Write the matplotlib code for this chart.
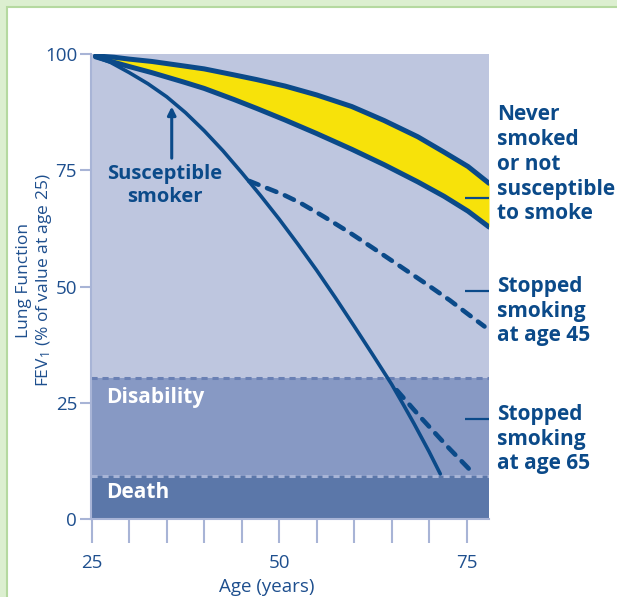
import matplotlib
matplotlib.use('Agg')
import matplotlib.pyplot as plt
from matplotlib.patches import Rectangle

plt.rcParams['font.family'] = ['Open Sans', 'DejaVu Sans']
plt.rcParams['mathtext.fontset'] = 'custom'
plt.rcParams['mathtext.rm'] = 'Open Sans'
plt.rcParams['mathtext.it'] = 'Open Sans:italic'

# lung function (% of FEV1 at age 25)
never_age = [25.5, 28, 30, 33, 37.4, 40, 44, 47, 50.8, 55, 59.7, 64, 68.5, 72, 75.2, 78.0]
never_top = [99.6, 99.3, 98.9, 98.4, 97.4, 96.8, 95.5, 94.5, 93.1, 91.2, 88.7, 85.7, 82.2, 78.9, 75.8, 72.2]
never_bottom = [99.4, 98.2, 97.3, 96.0, 93.9, 92.6, 90.2, 88.3, 85.8, 82.9, 79.5, 76.2, 72.5, 69.4, 66.2, 62.8]

smoker_age = [25.5, 27.5, 30, 32.5, 35, 37.5, 40, 42.5, 45, 47.5, 50, 52.5, 55, 57.5,
              60, 62.5, 65, 66.5, 68, 70, 71.5]
smoker_fev = [99.4, 98.2, 96.0, 93.6, 90.8, 87.4, 83.5, 79.2, 74.5, 69.6, 64.5, 59.1, 53.5, 47.6,
              41.5, 35.3, 29.0, 24.8, 20.5, 14.5, 9.7]

stop45_age = [46.0, 48, 50.5, 52.8, 56, 59.4, 62.5, 66.1, 69.5, 72.8, 75, 77.4]
stop45_fev = [72.7, 71.4, 69.8, 68.0, 65.0, 61.6, 58.3, 54.4, 50.7, 47.0, 44.3, 41.4]

stop65_age = [65.7, 68.8, 72.5, 76.1]
stop65_fev = [27.7, 22.0, 15.5, 9.5]

death_level = 9.2
disability_level = 30.3

navy = '#0b4a89'
tick_col = '#1e4f8e'
axis_col = '#a8b4d6'

fig = plt.figure(figsize=(6.17, 5.97), dpi=100)
fig.patch.set_facecolor('#dcefd0')
fig.patches.append(Rectangle((7 / 617, -0.02), 1.0, 590 / 597 + 0.02,
                             transform=fig.transFigure, facecolor='white',
                             edgecolor='#b5d9a0', lw=1.5, zorder=-10))

ax = fig.add_axes([91 / 617, 78 / 597, 398 / 617, 465 / 597])
ax.set_facecolor('#bec6df')
ax.set_xlim(24.9, 78.0)
ax.set_ylim(0, 100)

# bands
ax.axhspan(0, death_level, color='#5b77a9', lw=0, zorder=1)
ax.axhspan(death_level, disability_level, color='#8799c4', lw=0, zorder=1)
ax.axhline(disability_level, color='#6a80b4', lw=2.2, ls=(0, (2, 1.6)), zorder=2)
ax.axhline(death_level, color='#a7b4d6', lw=2.2, ls=(0, (2, 1.6)), zorder=2)

# curves
ax.fill_between(never_age, never_bottom, never_top, color='#f7e20a', lw=0, zorder=3)
ax.plot(never_age, never_top, color=navy, lw=3.6, solid_capstyle='round', zorder=5)
ax.plot(never_age, never_bottom, color=navy, lw=3.6, solid_capstyle='round', zorder=5)
ax.plot(smoker_age, smoker_fev, color=navy, lw=2.6, solid_capstyle='round', zorder=5)
ax.plot(stop45_age, stop45_fev, color=navy, lw=3.3, ls=(0, (2.2, 2.0)),
        dash_capstyle='round', zorder=4)
ax.plot(stop65_age, stop65_fev, color=navy, lw=3.3, ls=(0, (2.2, 2.0)),
        dash_capstyle='round', zorder=4)

# labels inside the plot
bold = dict(color=navy, fontsize=15, fontweight='bold')
ax.text(34.77, 71.7, 'Susceptible\nsmoker', ha='center', va='center',
        linespacing=1.2, zorder=6, color=navy, fontsize=14.5, fontweight='bold')
ax.annotate('', xy=(35.67, 88.7), xytext=(35.67, 77.6),
            arrowprops=dict(arrowstyle='-|>', color=navy, lw=2.2,
                            mutation_scale=12, shrinkA=0, shrinkB=0), zorder=6)
ax.text(26.9, 26.2, 'Disability', color='white', fontsize=15, fontweight='bold',
        va='center', zorder=6)
ax.text(26.9, 5.6, 'Death', color='white', fontsize=15, fontweight='bold',
        va='center', zorder=6)

# labels to the right with leader lines
right_labels = ['Never\nsmoked\nor not\nsusceptible\nto smoke',
                'Stopped\nsmoking\nat age 45',
                'Stopped\nsmoking\nat age 65']
label_y = [76.3, 44.7, 17.2]
leader_y = [69.0, 49.0, 21.5]
for txt, ty, ly in zip(right_labels, label_y, leader_y):
    ax.text(79.07, ty, txt, ha='left', va='center', linespacing=1.24,
            clip_on=False, **bold)
    ax.plot([74.8, 78.0], [ly, ly], color=navy, lw=1.6, zorder=6,
            solid_capstyle='butt')

# axes
for s in ['top', 'right']:
    ax.spines[s].set_visible(False)
for s in ['left', 'bottom']:
    ax.spines[s].set_color(axis_col)
    ax.spines[s].set_linewidth(1.5)

ax.set_xticks(range(25, 80, 5))
ax.set_xticklabels(['25', '', '', '', '', '50', '', '', '', '', '75'])
ax.set_yticks([0, 25, 50, 75, 100])
ax.tick_params(axis='x', length=17, width=1.5, color=axis_col, pad=8,
               labelsize=13.5, labelcolor=tick_col)
ax.tick_params(axis='y', length=8, width=1.5, color=axis_col, pad=2,
               labelsize=13.5, labelcolor=tick_col)

ax.set_xlabel('Age (years)', fontsize=13.5, color=tick_col)
ax.xaxis.set_label_coords(0.442, -0.127)

fig.text(35 / 617, 1 - 280 / 597,
         'Lung Function\nFEV$_1$ (% of value at age 25)', rotation=90,
         ha='center', va='center', multialignment='center',
         fontsize=12.5, color=tick_col, linespacing=1.1)

fig.savefig('out.png', dpi=100, facecolor=fig.get_facecolor())
